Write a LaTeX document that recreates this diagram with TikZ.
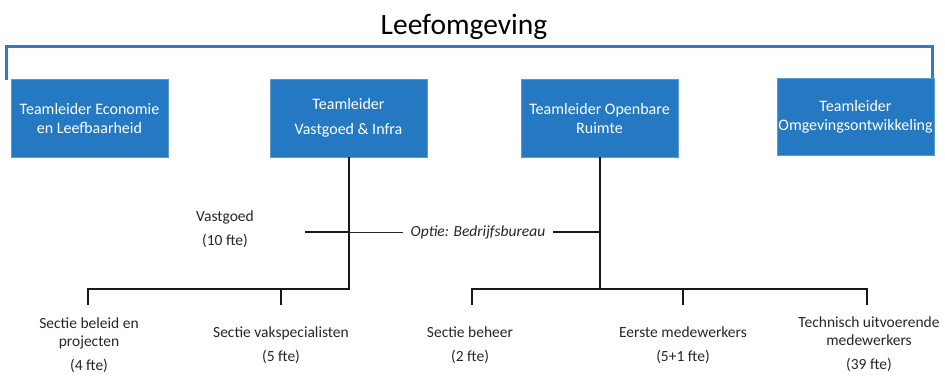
\documentclass[tikz,border=0pt]{standalone}
\usepackage{fontspec}
\setmainfont{Carlito}
\definecolor{boxblue}{HTML}{2479C2}
\definecolor{brblue}{HTML}{2E7BC6}
\definecolor{txtgray}{HTML}{262626}
\begin{document}
\begin{tikzpicture}[x=1pt,y=-1pt,
  box/.style={fill=boxblue, draw=boxblue!75!white, line width=0.8pt, minimum width=157pt, minimum height=78pt,
    text=white, align=center, inner sep=0pt, font=\fontsize{16}{19}\selectfont},
  lbl/.style={text=txtgray, align=center, inner sep=0pt, font=\fontsize{15.5}{18}\selectfont},
  lbltwo/.style={lbl, font=\fontsize{15.5}{24}\selectfont},
  conn/.style={draw=black!90, line width=1.8pt},
  thin/.style={draw=black!85, line width=1pt},
  bracket/.style={draw=brblue, line width=3pt}]
\useasboundingbox (0,0) rectangle (945,376);
\node[font=\fontsize{29.5}{34}\selectfont, text=black, inner sep=0pt] (title) at (464,27) {Leefomgeving};
\coordinate (bl) at (6,80);
\coordinate (tl) at (6,46);
\coordinate (tr) at (932,46);
\coordinate (br) at (932,79);
\draw[bracket] (bl) -- (tl) -- (tr) -- (br);
\node[box] (b1) at (89.5,118) {Teamleider Economie\\en Leefbaarheid};
\node[box, font=\fontsize{16}{25}\selectfont] (b2) at (348.5,118) {Teamleider\\Vastgoed \& Infra};
\node[box] (b3) at (599.5,118) {Teamleider Openbare\\Ruimte};
\node[box, minimum height=77pt] (b4) at (855.5,116.5) {Teamleider\\Omgevingsontwikkeling};
% left tree
\coordinate (j2) at (349,289);
\coordinate (j2a) at (88,289);
\coordinate (j2b) at (281,289);
\coordinate (t1) at (88,305);
\coordinate (t2) at (281,305);
\draw[conn] (b2.south -| j2) -- (j2) -- (j2a) -- (t1);
\draw[conn] (j2b) -- (t2);
% optie line
\coordinate (vl) at (305,232);
\coordinate (vj) at (349,232);
\coordinate (oj) at (600,232);
\node[lbl, font=\fontsize{15.5}{18}\selectfont\itshape, inner xsep=8pt] (optie) at (478,232) {Optie: Bedrijfsbureau};
\draw[conn] (vl) -- (vj);
\draw[thin] (vj) -- (optie.west);
\draw[conn] (optie.east) -- (oj);
\node[lbltwo] (vast) at (225,229) {Vastgoed\\(10 fte)};
% right tree
\coordinate (j3) at (600,289);
\coordinate (j3a) at (472,289);
\coordinate (j3b) at (683,289);
\coordinate (j3c) at (867,289);
\coordinate (t3) at (472,305);
\coordinate (t4) at (683,305);
\coordinate (t5) at (867,305);
\draw[conn] (b3.south -| j3) -- (j3);
\draw[conn] (t3) -- (j3a) -- (j3c) -- (t5);
\draw[conn] (j3b) -- (t4);
% labels
\node[lbl] (l1) at (89,345) {Sectie beleid en\\projecten\\[6pt](4 fte)};
\node[lbltwo] (l2) at (281,345) {Sectie vakspecialisten\\(5 fte)};
\node[lbltwo] (l3) at (470,345) {Sectie beheer\\(2 fte)};
\node[lbltwo] (l4) at (683,345) {Eerste medewerkers\\(5+1 fte)};
\node[lbl] (l5) at (869,344.5) {Technisch uitvoerende\\medewerkers\\[6pt](39 fte)};
\end{tikzpicture}
\end{document}
